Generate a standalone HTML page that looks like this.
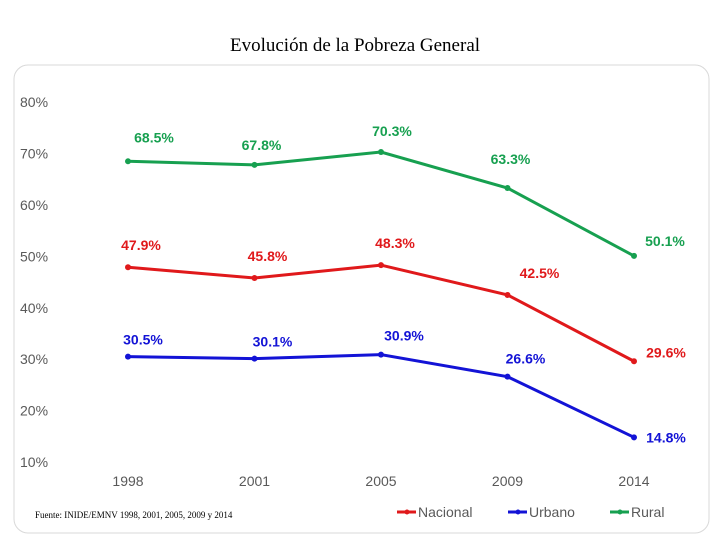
<!DOCTYPE html>
<html><head><meta charset="utf-8"><style>
body{margin:0;background:#fff;width:720px;height:540px;overflow:hidden}
svg text{font-family:"Liberation Sans",sans-serif}
</style></head><body>
<svg id="c" width="720" height="540">
<text x="355" y="51" text-anchor="middle" font-family="Liberation Serif" font-size="19" style="font-family:'Liberation Serif',serif">Evolución de la Pobreza General</text>
<rect x="14" y="65" width="695" height="468" rx="14" fill="none" stroke="#d9d9d9"/>
<g id="yaxis"></g>
<g id="xaxis"></g>
<g id="series"></g>
<text x="35" y="518" font-size="9" style="font-family:'Liberation Serif',serif">Fuente: INIDE/EMNV 1998, 2001, 2005, 2009 y 2014</text>
<g id="legend"></g>
</svg>
<script>
const categories=["1998","2001","2005","2009","2014"];
const yTicks=[10,20,30,40,50,60,70,80];
const nacional=[47.9,45.8,48.3,42.5,29.6];
const urbano=[30.5,30.1,30.9,26.6,14.8];
const rural=[68.5,67.8,70.3,63.3,50.1];
const seriesNames=["Nacional","Urbano","Rural"];
const ns="http://www.w3.org/2000/svg";
function y(v){return 462-(v-10)*5.14;}
function x(i){return 128+i*126.5;}
function mk(t,a,p){const e=document.createElementNS(ns,t);for(const k in a)e.setAttribute(k,a[k]);p.appendChild(e);return e;}
const ya=document.getElementById('yaxis');
yTicks.forEach(v=>{const t=mk('text',{x:20,y:y(v)+5,'font-size':14,fill:'#595959'},ya);t.textContent=v+'%';

});
const xa=document.getElementById('xaxis');
categories.forEach((c,i)=>{const t=mk('text',{x:x(i),y:486,'font-size':14,fill:'#595959','text-anchor':'middle'},xa);t.textContent=c;

});
const colors=["#e0191b","#1313d6","#17a050"];
const data=[nacional,urbano,rural];
const offs=[[[13,-17],[13,-17],[14,-17],[32,-17],[32,-4]],[[15,-12],[18,-12],[23,-14],[18,-13],[32,5]],[[26,-19],[7,-15],[11,-16],[3,-24],[31,-10]]];
const sg=document.getElementById('series');
data.forEach((d,s)=>{
 const pts=d.map((v,i)=>x(i)+','+y(v)).join(' ');
 const pl=mk('polyline',{points:pts,fill:'none',stroke:colors[s],'stroke-width':3},sg);
 
 
 d.forEach((v,i)=>{
  const c=mk('circle',{cx:x(i),cy:y(v),r:3,fill:colors[s]},sg);
  
  
  const t=mk('text',{x:x(i)+offs[s][i][0],y:y(v)+offs[s][i][1],'font-size':14,fill:colors[s],'text-anchor':'middle','font-weight':'bold'},sg);
  t.textContent=v.toFixed(1)+'%';
  
  
 });
});
const lg=document.getElementById('legend');
const lx=[397,508,610];
seriesNames.forEach((n,s)=>{
 const l=mk('line',{x1:lx[s],y1:512,x2:lx[s]+19,y2:512,stroke:colors[s],'stroke-width':3},lg);
 
 
 mk('circle',{cx:lx[s]+10,cy:512,r:2.5,fill:colors[s]},lg);
 const t=mk('text',{x:lx[s]+21,y:517,'font-size':14,fill:'#595959'},lg);t.textContent=n;
 
 
});
</script>
</body></html>
